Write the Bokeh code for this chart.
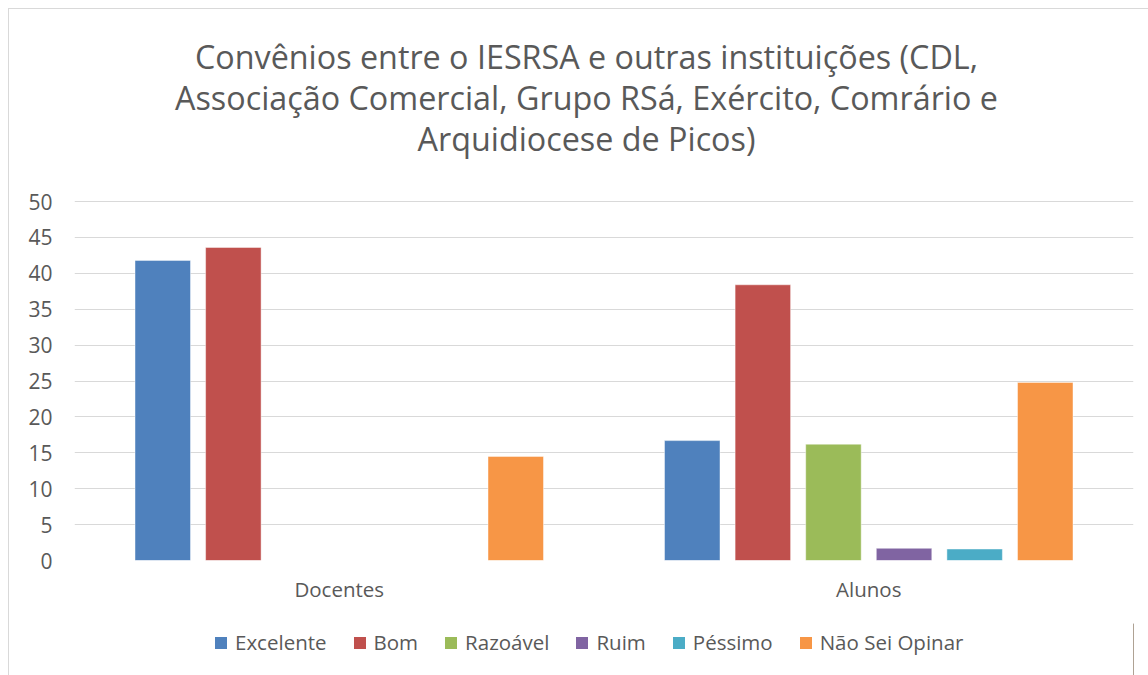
from bokeh.plotting import figure
from bokeh.layouts import column
from bokeh.models import (FactorRange, Label, Legend, LegendItem,
                          ColumnDataSource, FixedTicker)
from bokeh.transform import dodge
from bokeh.embed import file_html
from bokeh.resources import INLINE

# ---------------- data ----------------
categories = ["Docentes", "Alunos"]
series = ["Excelente", "Bom", "Razoável", "Ruim", "Péssimo", "Não Sei Opinar"]
docentes = [41.8, 43.6, 0, 0, 0, 14.5]
alunos = [16.7, 38.4, 16.2, 1.7, 1.6, 24.8]
colors = ["#4F81BD", "#C0504D", "#9BBB59", "#8064A2", "#4BACC6", "#F79646"]
y_ticks = [0, 5, 10, 15, 20, 25, 30, 35, 40, 45, 50]
title_lines = [
    "Convênios entre o IESRSA e outras instituições (CDL,",
    "Associação Comercial, Grupo RSá, Exército, Comrário e",
    "Arquidiocese de Picos)",
]

# ---------------- layout ----------------
OX, OY = 8, 8                      # chart box offset on the page
W = 1148 - OX
H_MAIN = 623 - OY
H_LEG = 675 - 623
FL, FR, FB = 73 - OX, 1132 - OX, 559 - OY   # frame edges (figure px)
Y50 = 200 - OY                     # pixel row of the value 50
FONT = "Open Sans"
GREY = "#595959"
BORDER = "1px solid #d9d9d9"

px_per_y = (FB - Y50) / 50.0
y_top = FB / px_per_y               # frame extends to the top of the figure

p = figure(x_range=FactorRange(*categories), y_range=(0, y_top),
           width=W, height=H_MAIN, output_backend="svg", toolbar_location=None,
           min_border_left=FL, min_border_right=W - FR,
           min_border_top=0, min_border_bottom=H_MAIN - FB,
           margin=(OY, 0, 0, OX),
           styles={"border-top": BORDER, "border-left": BORDER})
p.title.visible = False
p.background_fill_color = "white"
p.border_fill_color = "white"
p.outline_line_color = None

px_per_x = (FR - FL) / 2.0
bar_w = 55.5 / px_per_x
pitch = 70.6 / px_per_x

for i, name in enumerate(series):
    src = ColumnDataSource(dict(cat=categories, val=[docentes[i], alunos[i]]))
    p.vbar(x=dodge("cat", (i - 2.5) * pitch, range=p.x_range), top="val",
           width=bar_w, source=src, fill_color=colors[i],
           line_color="white", line_alpha=0.45, line_width=1)

# axes
p.yaxis.ticker = FixedTicker(ticks=y_ticks)
for ax in (p.xaxis, p.yaxis):
    ax.axis_line_color = None
    ax.major_tick_line_color = None
    ax.minor_tick_line_color = None
    ax.major_tick_out = 0
    ax.major_tick_in = 0
    ax.major_label_text_font = FONT
    ax.major_label_text_color = GREY
p.xaxis.major_label_text_font_size = "20.5px"
p.yaxis.major_label_text_font_size = "21px"
p.yaxis.major_label_standoff = 22
p.xaxis.major_label_standoff = 14
p.xgrid.grid_line_color = None
p.ygrid.grid_line_color = "#d9d9d9"
p.ygrid.grid_line_width = 1.2

# title (inside the frame, above the value 50)
baselines = [54 - OY, 95 - OY, 136 - OY]
for txt, b in zip(title_lines, baselines):
    p.add_layout(Label(x=1.0, y=50, x_offset=585 - OX - (FL + FR) / 2, y_offset=Y50 - b,
                       text=txt, text_align="center", text_baseline="alphabetic",
                       text_font=FONT, text_font_size="32.3px", text_color=GREY))

# ---------------- legend strip ----------------
pl = figure(width=W, height=H_LEG, x_range=(0, 1), y_range=(0, 1),
            x_axis_location=None, y_axis_location=None,
            output_backend="svg", toolbar_location=None,
            min_border_left=0, min_border_right=0, min_border_top=0, min_border_bottom=0,
            margin=(0, 0, 0, OX), styles={"border-left": BORDER})
pl.title.visible = False
pl.grid.visible = False
pl.outline_line_color = None
pl.background_fill_color = None
pl.border_fill_color = None
items = []
for i, name in enumerate(series):
    # legend swatches only: the bar itself lies outside the strip's ranges
    r = pl.vbar(x=[5], top=[5], width=0.1, fill_color=colors[i], line_color=None)
    items.append(LegendItem(label=name, renderers=[r]))

pad = 4
leg_h = 28 + 2 * pad
# the strip's frame is aligned with the main frame (left edge at page x = 73)
legend = Legend(items=items, orientation="horizontal",
                location=(216 - 73 - pad, H_LEG - (638 - 623) - leg_h // 2),
                label_text_font=FONT, label_text_font_size="20.5px",
                label_text_color=GREY, glyph_width=15, glyph_height=15,
                label_standoff=7, spacing=25, padding=pad, margin=0, label_height=28,
                border_line_color=None, background_fill_alpha=0)
pl.add_layout(legend)

layout = column(p, pl, spacing=0)
open("out.html", "w").write(file_html(layout, INLINE))
